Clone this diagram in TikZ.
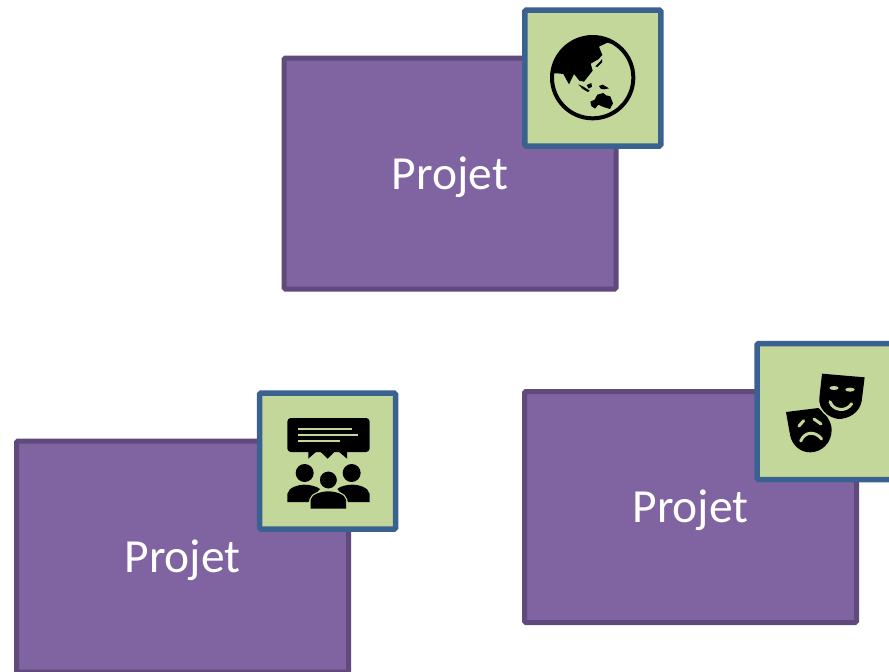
\documentclass[tikz,border=0pt]{standalone}
\usepackage{fontspec}
\setmainfont{Carlito}
\definecolor{pfill}{HTML}{8064A2}
\definecolor{pline}{HTML}{5F4A7B}
\definecolor{gfill}{HTML}{C4D79B}
\definecolor{gline}{HTML}{3A6290}
\tikzset{
  projetbox/.style={draw=pline,fill=pfill,line width=5pt,rounded corners=1.5pt,minimum width=332pt,minimum height=231pt,inner sep=0pt,text=white,text depth=1.5pt,font=\fontsize{47.5}{50}\selectfont},
  iconbox/.style={draw=gline,fill=gfill,line width=5.5pt,rounded corners=1.5pt,minimum width=136pt,minimum height=136pt,inner sep=0pt},
  zoomed/.style={shift={#1},scale=1/3}
}
\begin{document}
\begin{tikzpicture}[x=1pt,y=-1pt]
\useasboundingbox (0,0) rectangle (889,672);
\fill[white] (0,0) rectangle (889,672);
% Projects
\node[projetbox] (p1) at (450,173.5) {Projet};
\node[projetbox] (p2) at (182.5,556.5) {Projet};
\node[projetbox] (p3) at (690.5,507) {Projet};
% Icon boxes
\node[iconbox] (g1) at (592.8,78) {};
\node[iconbox] (g2) at (327.6,461) {};
\node[iconbox] (g3) at (825,411.5) {};
% Globe
\begin{scope}[zoomed={(520,5)}]
  \begin{scope}
    \clip (218,218) circle (124);
    \fill[black] (88,205) -- (112,205) -- (130,207) -- (147,238) -- (162,207) -- (178,227) -- (192,230) -- (218,197) -- (212,176) -- (235,163) -- (247,150) -- (237,125) -- (262,113) -- (290,120) -- (300,85) -- (88,85) -- cycle;
  \end{scope}
  \draw[black,line width=4pt] (218,218) circle (122);
  \fill[black] (226,184) -- (240,170) -- (246,162) -- (246,172) -- (232,186) -- cycle;
  \fill[black] (175,238) -- (190,245) -- (209,257) -- (204,261) -- (188,252) -- cycle;
  \fill[black] (200,240) -- (214,234) -- (216,245) -- (206,251) -- cycle;
  \fill[black] (237,243) -- (248,239) -- (267,250) -- (252,253) -- (242,251) -- cycle;
  \fill[black] (211,290) -- (224,284) -- (232,269) -- (250,264) -- (258,271) -- (271,274) -- (279,295) -- (270,312) -- (250,306) -- (235,299) -- (225,311) -- (214,303) -- cycle;
\end{scope}
% Audience
\begin{scope}[zoomed={(255,388)}]
  \fill[black,rounded corners=3.5pt] (97,90) rectangle (344,192);
  \fill[black] (160,190) -- (160,212) -- (185,190) -- cycle;
  \fill[black] (195,190) -- (218,212) -- (240,190) -- cycle;
  \fill[black] (250,190) -- (276,212) -- (276,190) -- cycle;
  \fill[gfill] (130,121) rectangle (290,127);
  \fill[gfill] (130,138) rectangle (310,144);
  \fill[gfill] (130,155) rectangle (255,161);
  \fill[black] (149,255) circle (27);
  \fill[black] (290,255) circle (27);
  \fill[black] (97,342) -- (97,318) .. controls (100,298) and (130,290) .. (148,290) .. controls (165,290) and (185,295) .. (195,303) -- (160,342) -- cycle;
  \fill[black] (344,342) -- (344,318) .. controls (341,298) and (311,290) .. (292,290) .. controls (275,290) and (255,295) .. (247,303) -- (280,342) -- cycle;
  \draw[gfill,line width=2.5pt,fill=gfill] (167,362) -- (167,335) .. controls (170,318) and (200,310) .. (220,310) .. controls (240,310) and (270,318) .. (273,335) -- (273,362) -- cycle;
  \fill[black] (167,362) -- (167,335) .. controls (170,318) and (200,310) .. (220,310) .. controls (240,310) and (270,318) .. (273,335) -- (273,362) -- cycle;
  \draw[gfill,line width=1.5pt,fill=black] (220,276) circle (28);
\end{scope}
% Masks
\begin{scope}[zoomed={(750,338)}]
  \fill[black] (108,222) -- (205,210) .. controls (225,225) and (245,250) .. (245,275) .. controls (245,315) and (215,343) .. (180,343) .. controls (150,343) and (125,320) .. (120,290) -- cycle;
  \draw[draw=gfill,line width=3pt] (216,107) -- (344,118) -- (335,190) .. controls (328,225) and (295,243) .. (265,243) .. controls (230,238) and (205,210) .. (208,180) -- cycle;
  \fill[black] (216,107) -- (344,118) -- (335,190) .. controls (328,225) and (295,243) .. (265,243) .. controls (230,238) and (205,210) .. (208,180) -- cycle;
  \fill[gfill] (252,150) ellipse (14 and 6);
  \fill[gfill] (300,155) ellipse (14 and 6);
  \draw[gfill,line width=3pt,line cap=round] (240,191) .. controls (250,220) and (290,222) .. (305,197);
  \draw[gfill,line width=3pt,line cap=round] (147,264) -- (161,248);
  \draw[gfill,line width=3pt,line cap=round] (192,243) -- (213,258);
  \draw[gfill,line width=3pt,line cap=round] (152,309) .. controls (165,280) and (195,278) .. (215,303);
\end{scope}
\end{tikzpicture}
\end{document}
